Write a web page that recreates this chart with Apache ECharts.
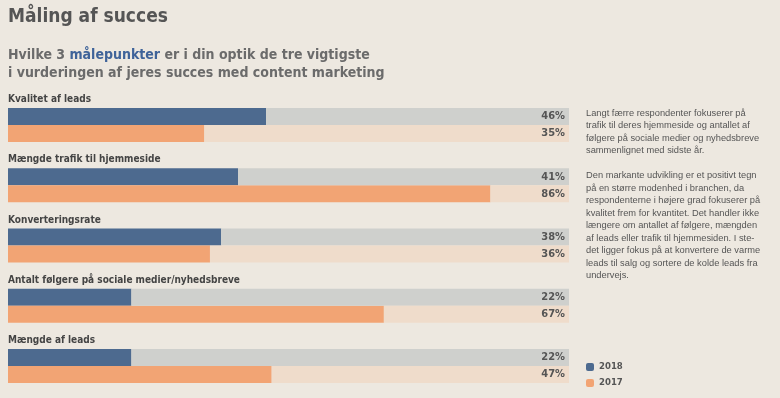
<!DOCTYPE html>
<html>
<head>
<meta charset="utf-8">
<script src="https://cdn.jsdelivr.net/npm/echarts@6/dist/echarts.min.js"></script>
<style>
html,body{margin:0;padding:0;background:#ede8e0;}
#c{width:780px;height:398px;}
</style>
</head>
<body>
<div id="c"></div>
<script>
const categories = ["Kvalitet af leads", "Mængde trafik til hjemmeside", "Konverteringsrate", "Antalt følgere på sociale medier/nyhedsbreve", "Mængde af leads"];
const values2018 = [46, 41, 38, 22, 22];
const values2017 = [35, 86, 36, 67, 47];
const seriesNames = ["2018", "2017"];
const maxValue = 100;

const c2018 = '#4d6a8f', c2017 = '#f2a474';
const track2018 = '#cfd0cd', track2017 = '#efdccb';
const condFont = '"DejaVu Sans Condensed", "DejaVu Sans", sans-serif';

const chart = echarts.init(document.getElementById('c'), null, {renderer: 'canvas'});

const pctLabel = (src) => ({
  show: true, position: 'insideRight', distance: 4,
  formatter: (p) => src[p.dataIndex] + '%',
  color: '#555', fontFamily: condFont, fontWeight: 'bold', fontSize: 11
});

chart.setOption({
  backgroundColor: '#ede8e0',
  animation: false,
  title: [{
    text: 'Måling af succes', left: 8, top: 8, padding: 0,
    textStyle: {fontFamily: condFont, fontWeight: 'bold', fontSize: 19, color: '#555'}
  }, {
    text: '{t|Hvilke 3 }{b|målepunkter}{t| er i din optik de tre vigtigste}\n{t|i vurderingen af jeres succes med content marketing}',
    left: 8, top: 46, padding: 0,
    textStyle: {
      rich: {
        t: {fontFamily: condFont, fontWeight: 'bold', fontSize: 14, color: '#6b6b6b', lineHeight: 18},
        b: {fontFamily: condFont, fontWeight: 'bold', fontSize: 14, color: '#3f6399', lineHeight: 18}
      }
    }
  }, {
    text: 'Langt færre respondenter fokuserer på\ntrafik til deres hjemmeside og antallet af\nfølgere på sociale medier og nyhedsbreve\nsammenlignet med sidste år.\n\nDen markante udvikling er et positivt tegn\npå en større modenhed i branchen, da\nrespondenterne i højere grad fokuserer på\nkvalitet frem for kvantitet. Det handler ikke\nlængere om antallet af følgere, mængden\naf leads eller trafik til hjemmesiden. I ste-\ndet ligger fokus på at konvertere de varme\nleads til salg og sortere de kolde leads fra\nundervejs.',
    left: 586, top: 107, padding: 0,
    textStyle: {fontFamily: '"Liberation Sans", Arial, sans-serif', fontWeight: 'normal', fontSize: 9.3, lineHeight: 12.5, color: '#555'}
  }],
  legend: {
    orient: 'vertical', left: 581, top: 357,
    itemWidth: 8, itemHeight: 8, itemGap: 6,
    data: seriesNames,
    textStyle: {fontFamily: condFont, fontWeight: 'bold', fontSize: 9.5, color: '#555'}
  },
  grid: {left: 8, right: 211, top: 95, height: 305, containLabel: false},
  xAxis: {type: 'value', min: 0, max: maxValue, show: false},
  yAxis: {
    type: 'category', inverse: true, data: categories,
    axisLine: {show: false}, axisTick: {show: false}, splitLine: {show: false},
    axisLabel: {
      inside: true, margin: 0, interval: 0,
      showMinLabel: true, showMaxLabel: true, hideOverlap: false,
      formatter: (v) => '{a|' + v + '}\n{s|}',
      rich: {
        a: {fontFamily: condFont, fontWeight: 'bold', fontSize: 10, color: '#444', lineHeight: 14},
        s: {height: 51, lineHeight: 51}
      }
    }
  },
  series: [
    {name: seriesNames[0], type: 'bar', stack: 'a', barWidth: 17, barGap: '0%', data: values2018, itemStyle: {color: c2018}},
    {name: seriesNames[1], type: 'bar', stack: 'b', barWidth: 17, barGap: '0%', data: values2017, itemStyle: {color: c2017}},
    {name: 'rest2018', type: 'bar', stack: 'a', barWidth: 17, barGap: '0%', data: values2018.map(v => maxValue - v), itemStyle: {color: track2018}, label: pctLabel(values2018), silent: true},
    {name: 'rest2017', type: 'bar', stack: 'b', barWidth: 17, barGap: '0%', data: values2017.map(v => maxValue - v), itemStyle: {color: track2017}, label: pctLabel(values2017), silent: true}
  ]
});
</script>
</body>
</html>
